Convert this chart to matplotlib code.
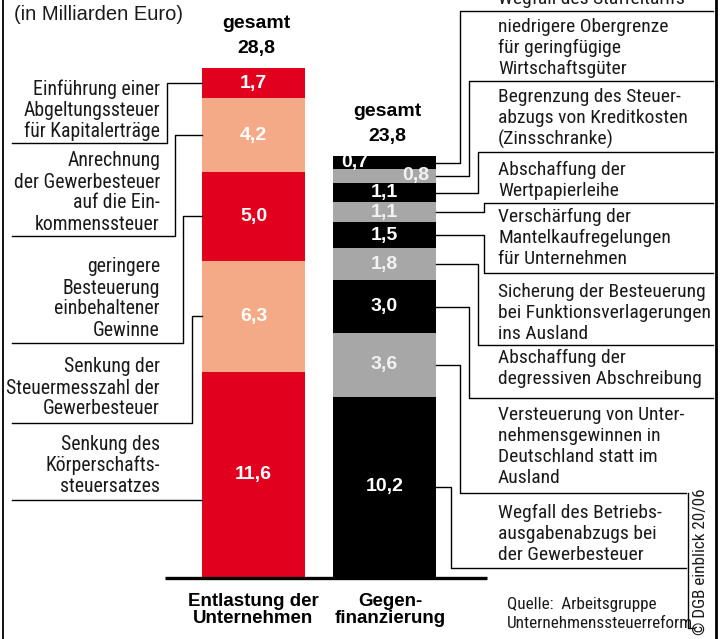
import matplotlib.pyplot as plt
from matplotlib import font_manager as fm

# Mrd. Euro, each bar listed from the top segment downwards
entl_values = [1.7, 4.2, 5.0, 6.3, 11.6]
entl_labels = ["1,7", "4,2", "5,0", "6,3", "11,6"]
gegen_values = [0.7, 0.8, 1.1, 1.1, 1.5, 1.8, 3.0, 3.6, 10.2]
gegen_labels = ["0,7", "0,8", "1,1", "1,1", "1,5", "1,8", "3,0", "3,6", "10,2"]
totals = ["28,8", "23,8"]
categories = ["Entlastung der\nUnternehmen", "Gegen-\nfinanzierung"]

entl_texts = [
    ["Einführung einer", "Abgeltungssteuer", "für Kapitalerträge"],
    ["Anrechnung", "der Gewerbesteuer", "auf die Ein-", "kommenssteuer"],
    ["geringere", "Besteuerung", "einbehaltener", "Gewinne"],
    ["Senkung der", "Steuermesszahl der", "Gewerbesteuer"],
    ["Senkung des", "Körperschafts-", "steuersatzes"],
]
gegen_texts = [
    ["Wegfall des Staffeltarifs"],
    ["niedrigere Obergrenze", "für geringfügige", "Wirtschaftsgüter"],
    ["Begrenzung des Steuer-", "abzugs von Kreditkosten", "(Zinsschranke)"],
    ["Abschaffung der", "Wertpapierleihe"],
    ["Verschärfung der", "Mantelkaufregelungen", "für Unternehmen"],
    ["Sicherung der Besteuerung", "bei Funktionsverlagerungen", "ins Ausland"],
    ["Abschaffung der", "degressiven Abschreibung"],
    ["Versteuerung von Unter-", "nehmensgewinnen in", "Deutschland statt im", "Ausland"],
    ["Wegfall des Betriebs-", "ausgabenabzugs bei", "der Gewerbesteuer"],
]

RED, SALMON, GREY = "#e2001f", "#f4aa87", "#a7a7a7"
BOLD = ["Liberation Sans", "DejaVu Sans"]
W, H = 726, 639


def find_narrow():
    # look for an installed condensed / narrow face, regular weight
    prefs = ["Liberation Sans Narrow", "Roboto Condensed", "Open Sans Condensed",
             "Noto Sans Condensed", "DejaVu Sans Condensed", "Noto Sans",
             "DejaVu Sans", "Open Sans", "Roboto", "Lato"]
    found = []
    for f in fm.fontManager.ttflist:
        narrow = ("Narrow" in f.name or "Condensed" in f.name
                  or f.stretch in ("condensed", "semi-condensed", 300,
                                   "extra-condensed"))
        if not narrow or f.style != "normal":
            continue
        w = f.weight if isinstance(f.weight, int) else 400
        if w not in (300, 400, "normal"):
            continue
        rank = next((i for i, p in enumerate(prefs) if f.name.startswith(p)), 99)
        found.append((rank, -w, f.fname))
    if found:
        found.sort()
        return fm.FontProperties(fname=found[0][2])
    return None


narrow_fp = find_narrow()
NSCALE = 1.0 if narrow_fp is not None else 0.84


def ntext(x, y, s, size, **kw):
    t = ov.text(x, y, s, color="#1a1a1a", **kw)
    if narrow_fp is None:
        t.set_family(["Liberation Sans", "DejaVu Sans"])
    else:
        t.set_fontproperties(narrow_fp)
    t.set_fontsize(size * NSCALE)
    return t


fig = plt.figure(figsize=(W / 100, H / 100), dpi=100)
fig.patch.set_facecolor("white")

# bar axes: x in pixels, y in Mrd. Euro (0 at the baseline)
px_per_unit = 509 / 28.8
ax = fig.add_axes([0, 0, 1, 1])
ax.set_xlim(0, W)
ax.set_ylim(-(H - 577) / px_per_unit, 577 / px_per_unit)
ax.axis("off")

# overlay in pixel coordinates for lines and text
ov = fig.add_axes([0, 0, 1, 1])
ov.set_xlim(0, W)
ov.set_ylim(H, 0)
ov.axis("off")
ov.patch.set_alpha(0)


def to_px(x, v):
    return ov.transData.inverted().transform(ax.transData.transform((x, v)))


bar_x = [253.5, 384.5]
bar_w = 103


def draw_stack(xc, values, labels, colors, label_colors, offsets):
    mids = []
    b = sum(values)
    for v, lab, c, lc, dx in zip(values, labels, colors, label_colors, offsets):
        b -= v
        ax.bar(xc, v, bottom=b, width=bar_w, color=c, linewidth=0, zorder=2)
        ax.text(xc + dx, b + v / 2, lab, color=lc, ha="center", va="center",
                fontsize=14, fontweight="bold", family=BOLD, zorder=3)
        mids.append(to_px(xc, b + v / 2)[1])
    top = to_px(xc, sum(values))[1]
    return mids, top


entl_mids, top1 = draw_stack(
    bar_x[0], entl_values, entl_labels,
    [RED, SALMON, RED, SALMON, RED], ["white"] * 5, [0] * 5)
gegen_mids, top2 = draw_stack(
    bar_x[1], gegen_values, gegen_labels,
    ["black", GREY] * 4 + ["black"],
    ["white", "#f2f2f2"] * 4 + ["white"],
    [-30, 31, 0, 0, 0, 0, 0, 0, 0])

# totals above the bars
for xc, top, tot in zip(bar_x, [top1, top2], totals):
    ov.text(xc + 3, top - 45, "gesamt", ha="center", va="center",
            fontsize=14, fontweight="bold", family=BOLD)
    ov.text(xc + 3, top - 20, tot, ha="center", va="center",
            fontsize=14, fontweight="bold", family=BOLD)

# baseline
ov.plot([165, 487], [578, 578], color="black", lw=2.4, solid_capstyle="butt")

# category labels
for xc, cat in zip([253, 390], categories):
    ov.text(xc, 610, cat, ha="center", va="center", fontsize=13.5,
            fontweight="bold", family=BOLD, linespacing=1.0)

LW = 1.0
left_edge = bar_x[0] - bar_w / 2
right_edge = bar_x[1] + bar_w / 2

# left leaders: vertical x and y of the label's bottom rule
left_vx = [167, 175, 183, 192]
left_ty = [143, 236, 343, 423]
for y, vx, ty in zip(entl_mids[:4], left_vx, left_ty):
    ov.plot([left_edge, vx, vx, 12], [y, y, ty, ty], color="black", lw=LW)
ov.plot([12, left_edge], [500, 500], color="black", lw=LW)

left_first = [89, 161, 267, 367, 444]
for lines, y0 in zip(entl_texts, left_first):
    for i, s in enumerate(lines):
        ntext(160, y0 + i * 21, s, 14.2, ha="right", va="center")

# right leaders
right_vx = [460, 469, 478, 484, 484, 478, 469, 460, 451]
right_ty = [11, 81, 152, 203, 273, 345, 398, 493, 568]
right_end = [713] * 7 + [686, 686]
for y, vx, ty, xe in zip(gegen_mids, right_vx, right_ty, right_end):
    ov.plot([right_edge, vx, vx, xe], [y, y, ty, ty], color="black", lw=LW)

right_first = [-1, 27, 97, 170, 217, 292, 358, 415, 513]
for lines, y0 in zip(gegen_texts, right_first):
    for i, s in enumerate(lines):
        ntext(498, y0 + i * 21, s, 14, ha="left", va="center")

# header, source, copyright
ov.text(14, 15, "(in Milliarden Euro)", ha="left", va="center",
        fontsize=14.5, family=BOLD, color="#1a1a1a")
ntext(507, 605, "Quelle:  Arbeitsgruppe", 12.3, ha="left", va="center")
ntext(507, 624, "Unternehmenssteuerreform", 12.3, ha="left", va="center")
ntext(701, 562, "© DGB einblick 20/06", 12.3, rotation=90, ha="center",
      va="center")
ov.plot([688, 688, 694], [493, 628, 628], color="black", lw=LW)

# frame
ov.plot([3, 3], [0, H], color="black", lw=1.3)
ov.plot([716, 716], [0, H], color="black", lw=2.0)

fig.savefig("out.png", dpi=100, facecolor="white")
